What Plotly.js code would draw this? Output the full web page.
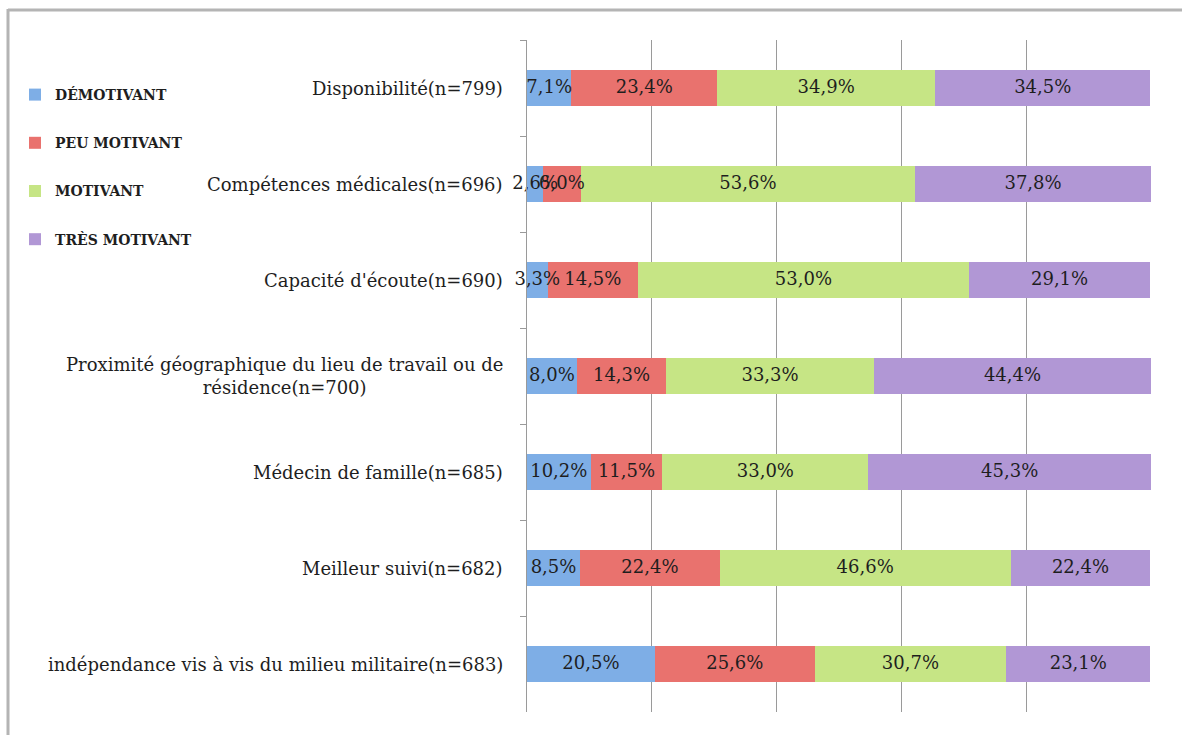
<!DOCTYPE html>
<html>
<head>
<meta charset="utf-8">
<script src="https://cdn.plot.ly/plotly-3.0.1.min.js"></script>
<style>
  html, body { margin: 0; padding: 0; background: #ffffff; }
  #chart { width: 1182px; height: 735px; }
</style>
</head>
<body>
<div id="chart"></div>
<script>
// Categories (top to bottom)
const categories = [
  "Disponibilité(n=799)",
  "Compétences médicales(n=696)",
  "Capacité d'écoute(n=690)",
  "Proximité géographique du lieu de travail ou de<br>résidence(n=700)",
  "Médecin de famille(n=685)",
  "Meilleur suivi(n=682)",
  "indépendance vis à vis du milieu militaire(n=683)"
];

// Series values (%)
const demotivant    = [7.1, 2.6, 3.3, 8.0, 10.2, 8.5, 20.5];
const peuMotivant   = [23.4, 6.0, 14.5, 14.3, 11.5, 22.4, 25.6];
const motivant      = [34.9, 53.6, 53.0, 33.3, 33.0, 46.6, 30.7];
const tresMotivant  = [34.5, 37.8, 29.1, 44.4, 45.3, 22.4, 23.1];

const seriesNames = ["DÉMOTIVANT", "PEU MOTIVANT", "MOTIVANT", "TRÈS MOTIVANT"];
const seriesValues = [demotivant, peuMotivant, motivant, tresMotivant];
const seriesColors = ["#7eaee6", "#e9726e", "#c6e585", "#b197d5"];

const FONT = "DejaVu Serif, Liberation Serif, serif";

const W = 1182, H = 735;
const mL = 527, mR = 31, mT = 40, mB = 23;
const pw = W - mL - mR, ph = H - mT - mB;
const px = v => (v - mL) / pw;          // pixel x -> paper x
const py = v => 1 - (v - mT) / ph;      // pixel y -> paper y

const fmt = v => v.toFixed(1).replace(".", ",") + "%";

// Stacked bars
const barTraces = seriesValues.map((vals, i) => ({
  type: "bar",
  orientation: "h",
  name: seriesNames[i],
  legendgroup: "g" + i,
  y: categories,
  x: vals,
  marker: { color: seriesColors[i], line: { width: 0 } },
  textposition: "none",
  hoverinfo: "skip"
}));

// Value labels drawn on top of all bars, centred on each segment
const labelTraces = seriesValues.map((vals, i) => {
  const centers = vals.map((v, k) => {
    let start = 0;
    for (let j = 0; j < i; j++) start += seriesValues[j][k];
    return start + v / 2;
  });
  return {
    type: "scatter",
    mode: "text",
    x: centers,
    y: categories,
    text: vals.map(fmt),
    textposition: "middle center",
    textfont: { family: FONT, size: 18, color: "#1e1e1e" },
    showlegend: false,
    cliponaxis: false,
    hoverinfo: "skip"
  };
});

// Category labels (centred multi-line, right edge near the axis)
const catAnnotations = categories.map(c => ({
  xref: "paper", yref: "y",
  x: px(505), y: c,
  xanchor: "right", yanchor: "middle",
  align: "center",
  text: c,
  showarrow: false,
  font: { family: FONT, size: 18, color: "#1e1e1e" }
}));

const layout = {
  width: W,
  height: H,
  margin: { l: mL, r: mR, t: mT, b: mB, pad: 0 },
  paper_bgcolor: "#ffffff",
  plot_bgcolor: "#ffffff",
  barmode: "stack",
  bargap: 0.615,
  showlegend: true,
  legend: {
    x: px(15),
    y: py(79),
    xanchor: "left",
    yanchor: "top",
    traceorder: "grouped",
    tracegroupgap: 27,
    font: { family: FONT, size: 14, color: "#1e1e1e", weight: "bold" },
    bgcolor: "rgba(0,0,0,0)",
    itemwidth: 30
  },
  xaxis: {
    range: [0, 100],
    dtick: 20,
    tick0: 0,
    showgrid: true,
    gridcolor: "#9a9a9a",
    gridwidth: 1,
    zeroline: false,
    showline: false,
    showticklabels: false,
    ticks: "",
    fixedrange: true
  },
  yaxis: {
    type: "category",
    categoryorder: "array",
    categoryarray: categories,
    autorange: "reversed",
    showgrid: false,
    zeroline: false,
    showline: true,
    linecolor: "#9a9a9a",
    linewidth: 1,
    ticks: "outside",
    tickson: "boundaries",
    ticklen: 6,
    tickcolor: "#9a9a9a",
    tickwidth: 1,
    showticklabels: false,
    fixedrange: true
  },
  annotations: catAnnotations,
  shapes: [
    { type: "line", xref: "paper", yref: "paper",
      x0: px(8), x1: px(W + 5), y0: py(10), y1: py(10),
      line: { color: "#b4b4b4", width: 3 } },
    { type: "line", xref: "paper", yref: "paper",
      x0: px(8), x1: px(8), y0: py(9), y1: py(H + 5),
      line: { color: "#b4b4b4", width: 3 } }
  ]
};

Plotly.newPlot("chart", barTraces.concat(labelTraces), layout, { displayModeBar: false, staticPlot: true });
</script>
</body>
</html>
